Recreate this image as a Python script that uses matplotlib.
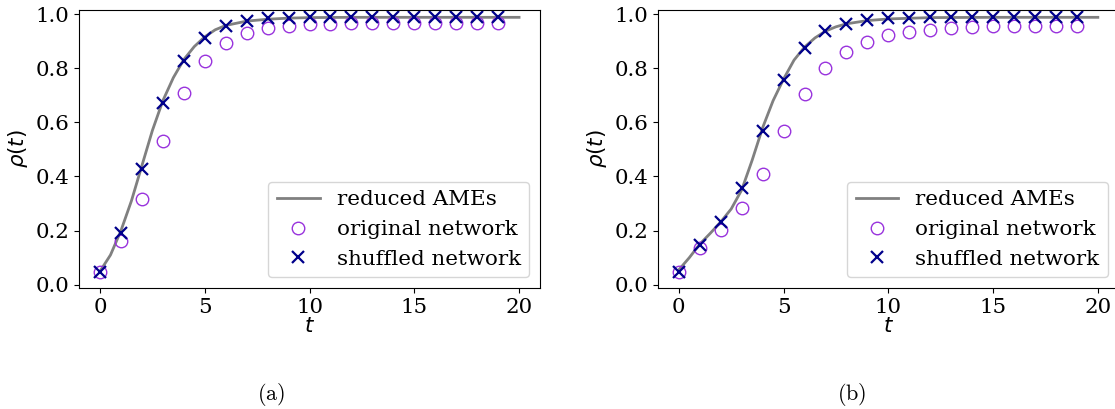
"""AME vs simulation comparison, two panels"""
import matplotlib.pyplot as plt
import numpy as np

plt.rcParams['font.family'] = ['DejaVu Serif']
plt.rcParams['mathtext.fontset'] = 'dejavusans'
plt.rcParams['font.size'] = 15.4

# time steps of the simulations
t_sim = np.arange(20)

# panel (a)
orig_a = [0.049, 0.160, 0.317, 0.530, 0.707, 0.825, 0.892, 0.930, 0.949, 0.957,
          0.963, 0.965, 0.966, 0.967, 0.967, 0.967, 0.967, 0.967, 0.967, 0.967]
shuf_a = [0.049, 0.193, 0.427, 0.672, 0.828, 0.912, 0.955, 0.973, 0.984, 0.987,
          0.988, 0.988, 0.988, 0.988, 0.988, 0.988, 0.988, 0.988, 0.988, 0.988]
t_ame_a = [0, 0.5, 1, 1.5, 2, 2.5, 3, 3.5, 4, 4.5, 5, 5.5, 6, 7, 8, 9, 10, 12, 15, 20]
ame_a = [0.050, 0.110, 0.200, 0.310, 0.440, 0.570, 0.680, 0.765, 0.832, 0.880,
         0.916, 0.942, 0.958, 0.974, 0.981, 0.985, 0.987, 0.988, 0.988, 0.988]

# panel (b)
orig_b = [0.049, 0.135, 0.202, 0.282, 0.410, 0.568, 0.704, 0.800, 0.861, 0.897,
          0.921, 0.934, 0.942, 0.949, 0.952, 0.955, 0.956, 0.957, 0.957, 0.957]
shuf_b = [0.049, 0.147, 0.233, 0.358, 0.568, 0.757, 0.874, 0.936, 0.963, 0.978,
          0.984, 0.987, 0.988, 0.988, 0.988, 0.988, 0.988, 0.988, 0.988, 0.988]
t_ame_b = [0, 0.5, 1, 1.5, 2, 2.5, 3, 3.5, 4, 4.5, 5, 5.5, 6, 6.5, 7, 7.5, 8, 9, 10, 12, 15, 20]
ame_b = [0.055, 0.100, 0.150, 0.190, 0.232, 0.280, 0.350, 0.460, 0.580, 0.680,
         0.760, 0.830, 0.878, 0.912, 0.937, 0.953, 0.964, 0.976, 0.982, 0.987, 0.988, 0.988]

panels = [
    (t_ame_a, ame_a, orig_a, shuf_a, '(a)'),
    (t_ame_b, ame_b, orig_b, shuf_b, '(b)'),
]

fig = plt.figure(figsize=(11.15, 4.09), dpi=100)
lefts = [0.0709, 0.590]
# caption positions (figure fraction)
tag_x = [271 / 1115, 852 / 1115]

for left, tx, (ta, ya, yo, ys, tag) in zip(lefts, tag_x, panels):
    ax = fig.add_axes([left, 0.2958, 0.4134, 0.6797])
    ax.plot(ta, ya, color='gray', linewidth=2, label='reduced AMEs')
    ax.plot(t_sim, yo, 'o', markerfacecolor='none', markeredgecolor='#9933dd',
            markersize=9, linestyle='none', label='original network')
    ax.plot(t_sim, ys, 'x', color='#00008b', markersize=9, markeredgewidth=1.6,
            linestyle='none', label='shuffled network')
    ax.set_xlim(-1, 21)
    ax.set_ylim(-0.012, 1.015)
    ax.set_xticks([0, 5, 10, 15, 20])
    ax.set_xlabel(r'$t$', labelpad=0)
    ax.set_ylabel(r'$\rho(t)$')
    ax.legend(loc='lower right')
    fig.text(tx, 0.002, r'$\mathrm{' + tag + '}$',
             math_fontfamily='cm', ha='center', va='bottom', fontsize=16)

plt.savefig('out.png', dpi=100)
plt.close()
